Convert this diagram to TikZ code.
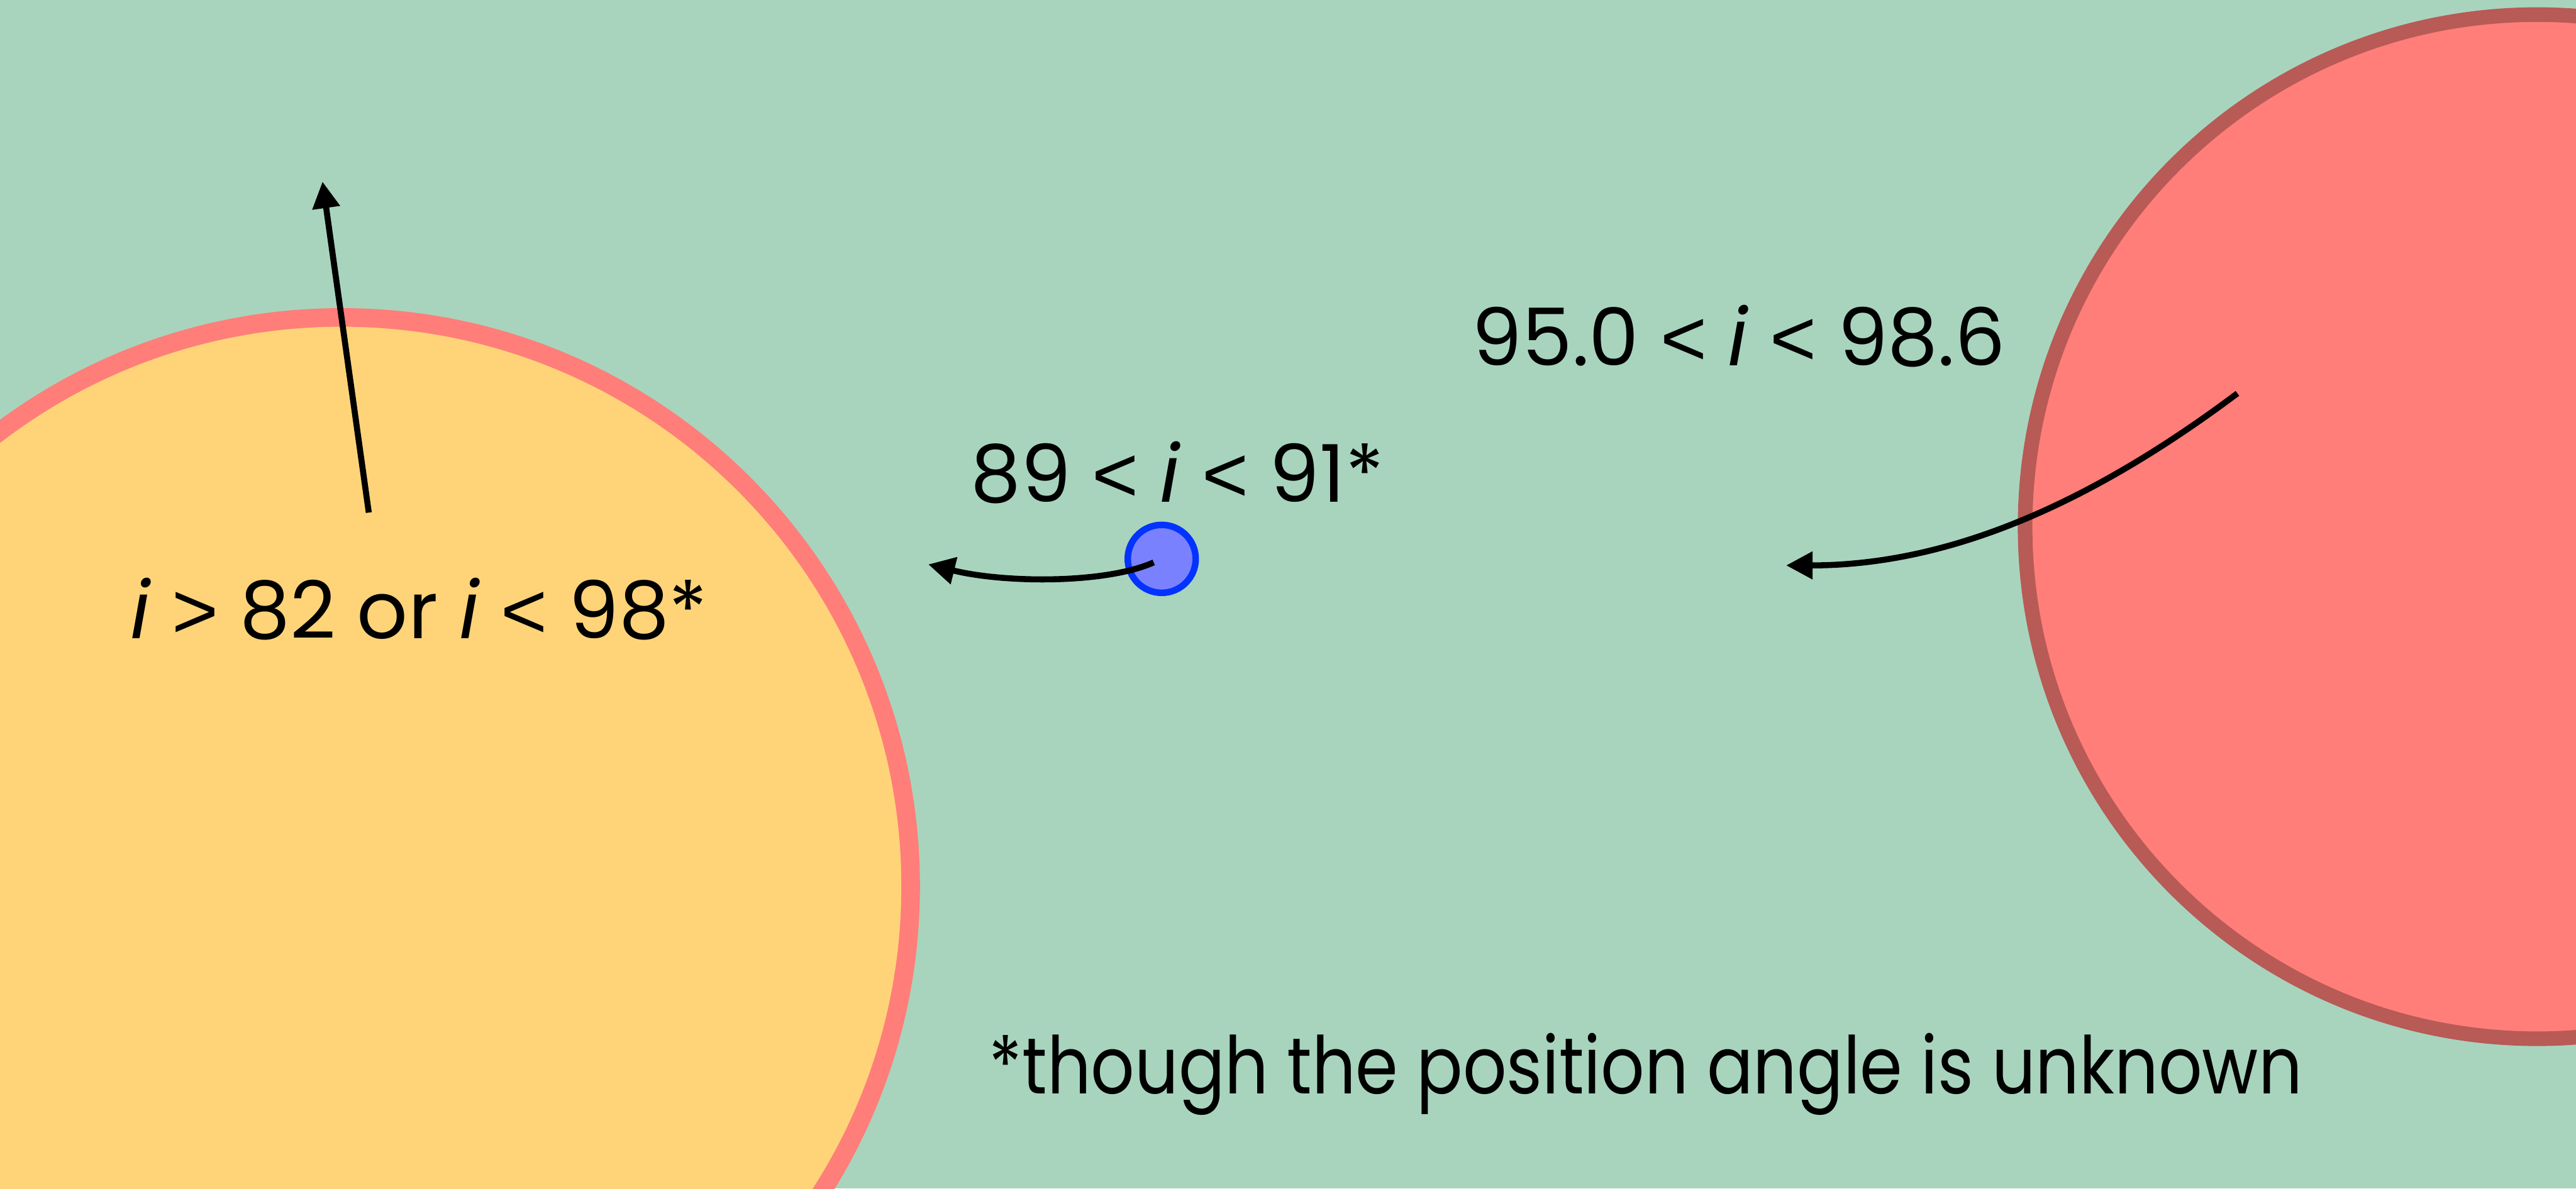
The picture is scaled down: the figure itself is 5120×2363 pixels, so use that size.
\documentclass[tikz,border=0pt]{standalone}
\usepackage{fontspec}
\setmainfont{Poppins}
\newfontfamily\arialfont{Liberation Sans}
\newcommand{\lessthan}{{\arialfont <}}
\newcommand{\morethan}{{\arialfont >}}
\usetikzlibrary{arrows.meta}
\definecolor{backdrop}{HTML}{A8D4BE}
\definecolor{sunfill}{HTML}{FFD479}
\definecolor{sunrim}{HTML}{FF7E79}
\definecolor{giantfill}{HTML}{FF7E79}
\definecolor{giantrim}{HTML}{B85A55}
\definecolor{dotfill}{HTML}{7A81FF}
\definecolor{dotrim}{HTML}{0433FF}

\begin{document}
\begin{tikzpicture}[x=0.01cm, y=-0.01cm,
    caption/.style={font=\fontsize{45}{54}\selectfont, inner sep=0pt, anchor=base},
    pointer/.style={line width=3.4pt, -{Triangle[length=15pt, width=15pt]}}]
    \useasboundingbox (0,0) rectangle (5120,2363);
    \clip (0,0) rectangle (5120,2363);
    \fill[backdrop] (0,0) rectangle (5120,2363);

    % the two big discs
    \draw[sunrim, fill=sunfill, line width=10.5pt] (679,1762) circle (1131);
    \draw[giantrim, fill=giantfill, line width=8.25pt] (5043,1047) circle (1018);

    % small companion
    \node[circle, draw=dotrim, fill=dotfill, line width=3.7pt,
          minimum size=1.35cm, inner sep=0pt] (dot) at (2309,1111) {};

    % labels
    \node[caption] (outer) at (833,1269) {\textit{i} \morethan{} 82 or \textit{i} \lessthan{} 98*};
    \node[caption] (middle) at (2340,998) {89 \lessthan{} \textit{i} \lessthan{} 91*};
    \node[caption] (giant) at (3456,727) {95.0 \lessthan{} \textit{i} \lessthan{} 98.6};
    \node[caption] (note) at (3271,2174) {\addfontfeature{FakeStretch=0.86}*though the position angle is unknown};

    % spin axes
    \coordinate (suntail) at (733,1019);
    \coordinate (suntip) at (641,361);
    \draw[pointer] (suntail) -- (suntip);

    \coordinate (dottail) at (2293,1118);
    \coordinate (dottip) at (1845,1122);
    \draw[pointer] (dottail) .. controls (2200,1160) and (2000,1160) .. (dottip);

    \coordinate (gianttail) at (4447,782);
    \coordinate (gianttip) at (3550,1124);
    \draw[pointer] (gianttail) .. controls (4127,1022) and (3850,1124) .. (gianttip);
\end{tikzpicture}
\end{document}
